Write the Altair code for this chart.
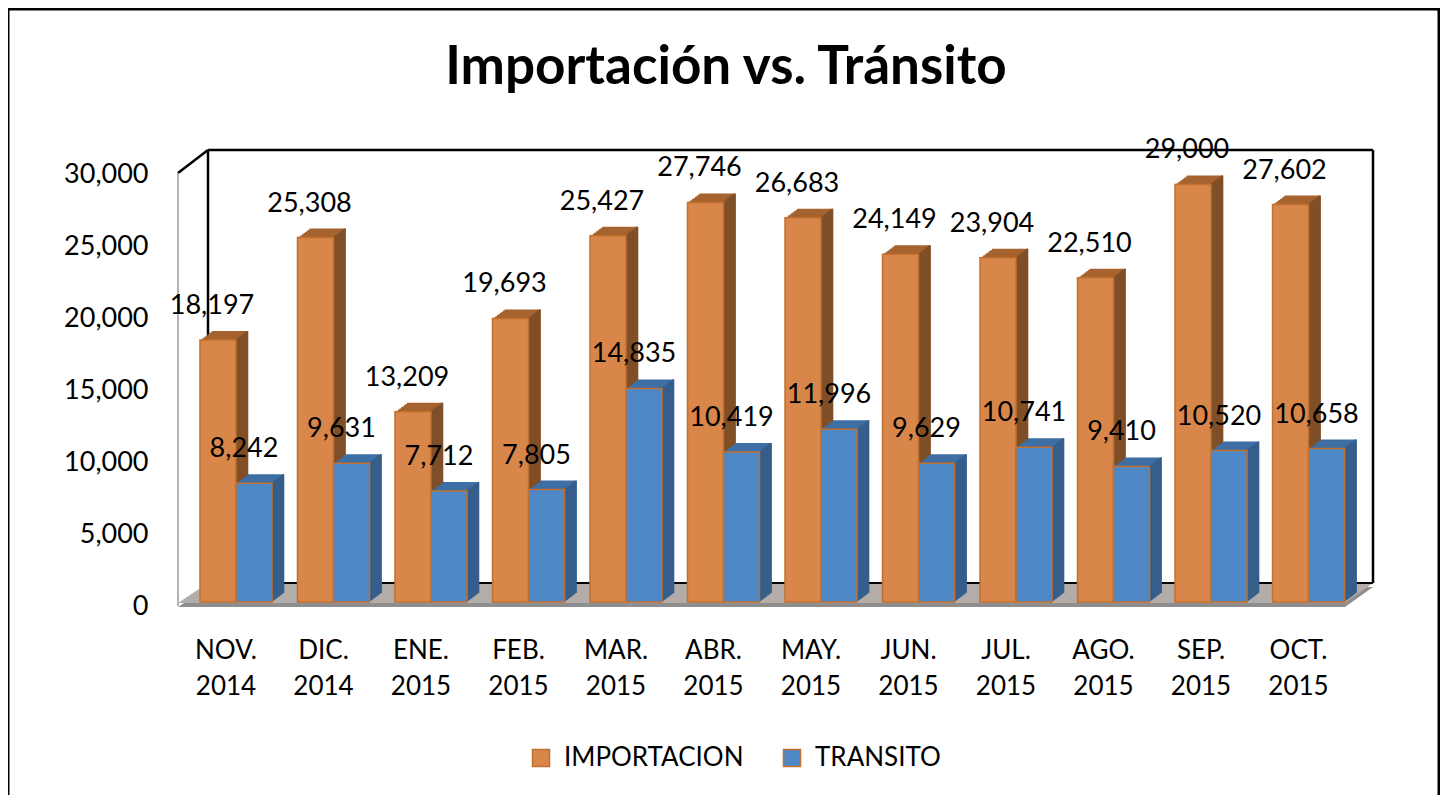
import altair as alt
import pandas as pd

# ---------------- data ----------------
meses = ["NOV. 2014", "DIC. 2014", "ENE. 2015", "FEB. 2015", "MAR. 2015", "ABR. 2015",
         "MAY. 2015", "JUN. 2015", "JUL. 2015", "AGO. 2015", "SEP. 2015", "OCT. 2015"]
importacion = [18197, 25308, 13209, 19693, 25427, 27746, 26683, 24149, 23904, 22510, 29000, 27602]
transito = [8242, 9631, 7712, 7805, 14835, 10419, 11996, 9629, 10741, 9410, 10520, 10658]
series = ["IMPORTACION", "TRANSITO"]
y_ticks = [0, 5000, 10000, 15000, 20000, 25000, 30000]
titulo = "Importación vs. Tránsito"

rows = []
for m, a, b in zip(meses, importacion, transito):
    rows.append({"mes": m, "serie": series[0], "valor": a})
    rows.append({"mes": m, "serie": series[1], "valor": b})
df = pd.DataFrame(rows)

# ---------------- style ----------------
FONT = "Lato"
W, H = 1195, 432
ORANGE, ORANGE_TOP, ORANGE_SIDE = "#D8864A", "#A6632F", "#7F4F28"
BLUE, BLUE_TOP, BLUE_SIDE = "#4F88C6", "#3E6FA5", "#365E8B"
STROKE = "#C2702F"
BAR_W = 36
DEPTH_X, DEPTH_Y = 12, -9
STEPS = 8

one = pd.DataFrame({"k": [0]})

x_enc = alt.X(
    "mes:N", sort=meses, title=None,
    scale=alt.Scale(domain=meses, paddingInner=0, paddingOuter=0.128, align=0.37),
    axis=alt.Axis(labelExpr="split(datum.label, ' ')", labelAngle=0, labelFontSize=26,
                  labelFont=FONT, labelLineHeight=36, labelPadding=35, labelOffset=-10,
                  labelBaseline="top", domain=False, ticks=False, grid=False,
                  labelColor="black", labelOverlap=False),
)
y_enc = alt.Y(
    "valor:Q", title=None,
    scale=alt.Scale(domain=[0, 30000], nice=False),
    axis=alt.Axis(values=y_ticks, labelExpr="format(datum.value, ',')", labelFontSize=27,
                  labelFont=FONT, labelPadding=30, labelOffset=4, domain=False, ticks=False,
                  grid=False, labelColor="black"),
)
color_enc = alt.Color(
    "serie:N",
    scale=alt.Scale(domain=series, range=[ORANGE, BLUE]),
    legend=alt.Legend(title=None, orient="none", legendX=350, legendY=575,
                      direction="horizontal", symbolType="square", symbolSize=289,
                      symbolStrokeColor=STROKE, symbolStrokeWidth=1.5,
                      labelFontSize=26, labelFont=FONT, labelColor="black", labelLimit=0,
                      labelOffset=10, columnPadding=35, padding=0),
)

layers = []

# outer border
layers.append(alt.Chart(one).mark_rect(filled=False, stroke="black", strokeWidth=3).encode(
    x=alt.value(-170), x2=alt.value(1261), y=alt.value(-161), y2=alt.value(700)))

# floor (decor, pixel geometry)
floor_px = [0, 30, 1167, 1195]
floor_top = [433, 413, 413, 413]
floor_bot = [433, 433, 433, 413]
floor_df = pd.DataFrame({"px": floor_px, "t": floor_top, "b": floor_bot})
slab_df = pd.DataFrame({"px": floor_px, "t": [v + 4 for v in floor_top], "b": [v + 4 for v in floor_bot]})
layers.append(alt.Chart(slab_df).mark_area(orient="vertical", color="#8E8E8E").encode(
    x=alt.X("px:Q", scale=None), y=alt.Y("t:Q", scale=None), y2="b:Q"))
layers.append(alt.Chart(floor_df).mark_area(orient="vertical", color="#B3ACA9").encode(
    x=alt.X("px:Q", scale=None), y=alt.Y("t:Q", scale=None), y2="b:Q"))

# walls
def rule(x1, y1, x2, y2, color="black", w=2.5):
    return alt.Chart(one).mark_rule(color=color, strokeWidth=w).encode(
        x=alt.value(x1), y=alt.value(y1), x2=alt.value(x2), y2=alt.value(y2))

layers += [
    rule(30, -20, 1195, -20),
    rule(1195, -20, 1195, 413),
    rule(30, -20, 30, 413),
    rule(0, 3, 30, -20),
    rule(0, 3, 0, 436, color="#9A9A9A", w=1.5),
    rule(30, 413, 1195, 413, w=2),
]

# bars with 3D look
conf = [(series[0], -BAR_W / 2, ORANGE_TOP, ORANGE_SIDE),
        (series[1], BAR_W / 2, BLUE_TOP, BLUE_SIDE)]
strip_w = DEPTH_X / STEPS
for s, base, ctop, cside in conf:
    src = alt.Chart(df).transform_filter(alt.datum.serie == s)
    for k in range(STEPS, 0, -1):
        dx = DEPTH_X * k / STEPS
        dy = DEPTH_Y * k / STEPS
        layers.append(src.mark_bar(width=BAR_W, xOffset=base + dx, yOffset=dy, y2Offset=dy,
                                   color=ctop).encode(x=x_enc, y=y_enc, y2=alt.datum(0)))
    for k in range(STEPS, 0, -1):
        dx = DEPTH_X * k / STEPS
        dy = DEPTH_Y * k / STEPS
        layers.append(src.mark_bar(width=strip_w + 0.6,
                                   xOffset=base + BAR_W / 2 + dx - strip_w / 2,
                                   yOffset=dy, y2Offset=dy,
                                   color=cside).encode(x=x_enc, y=y_enc, y2=alt.datum(0)))
    layers.append(src.mark_bar(width=BAR_W, xOffset=base, stroke=STROKE, strokeWidth=1.5,
                               opacity=1).encode(x=x_enc, y=y_enc, y2=alt.datum(0), color=color_enc))

# value labels
for s, off in [(series[0], -BAR_W / 2 - 6), (series[1], BAR_W / 2 - 10)]:
    layers.append(alt.Chart(df).transform_filter(alt.datum.serie == s).mark_text(
        font=FONT, fontSize=27, color="black", baseline="alphabetic", align="center",
        xOffset=off, dy=-26).encode(x=x_enc, y=y_enc, text=alt.Text("valor:Q", format=",")))

# title
layers.append(alt.Chart(one).mark_text(
    text=titulo, font=FONT, fontSize=53, fontWeight="bold", color="black",
    align="center", baseline="alphabetic").encode(x=alt.value(548), y=alt.value(-86)))

chart = alt.layer(*layers).properties(
    width=W, height=H,
    padding={"left": 170, "top": 162, "right": 67, "bottom": 193},
    autosize=alt.AutoSizeParams(type="none"),
    background="white",
).configure_view(stroke=None)

chart.save("out.html", embed_options={"renderer": "svg", "actions": False})
